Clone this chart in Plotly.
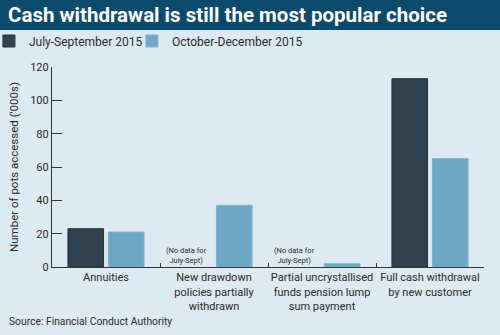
import plotly.graph_objects as go

categories = [
    "Annuities",
    "New drawdown<br>policies partially<br>withdrawn",
    "Partial uncrystallised<br>funds pension lump<br>sum payment",
    "Full cash withdrawal<br>by new customer",
]
series_names = ["July-September 2015", "October-December 2015"]
jul_sep = [23, None, None, 113]
oct_dec = [21, 37, 2, 65]
no_data_label = "(No data for<br>July-Sept)"
y_ticks = [0, 20, 40, 60, 80, 100, 120]

BG = "#deeaf2"
DARK = "#2f424d"
LIGHT = "#6ea8c4"
TEXT = "#2a2a2a"
FONT = "Roboto"

fig = go.Figure()
fig.add_trace(go.Bar(x=categories, y=jul_sep, name=series_names[0], legend="legend",
                     marker=dict(color=DARK, line=dict(color="#24343e", width=1))))
fig.add_trace(go.Bar(x=categories, y=oct_dec, name=series_names[1], legend="legend2",
                     marker=dict(color=LIGHT, line=dict(color="#7fb4cd", width=1))))

for i, v in enumerate(jul_sep):
    if v is None:
        fig.add_annotation(x=categories[i], y=7, xref="x", yref="y", text=no_data_label,
                           showarrow=False, xshift=-28,
                           font=dict(family=FONT, size=7.5, color=TEXT))

# title bar
fig.add_shape(type="rect", xref="paper", yref="paper", x0=-1, x1=2, y0=1.185, y1=2,
              fillcolor="#0c4a6c", line=dict(width=0), layer="below")

fig.add_annotation(text="Source: Financial Conduct Authority", xref="paper", yref="paper",
                   x=-0.104, xanchor="left", y=-0.27, yanchor="middle",
                   showarrow=False, font=dict(family=FONT, size=10.3, color=TEXT))

legend_common = dict(orientation="h", xanchor="left", y=1.13, yanchor="middle",
                     font=dict(family=FONT, size=12, color=TEXT), bgcolor="rgba(0,0,0,0)")

fig.update_layout(
    width=500, height=335,
    margin=dict(l=52, r=16, t=67, b=68, autoexpand=False),
    paper_bgcolor=BG, plot_bgcolor=BG,
    font=dict(family=FONT, color=TEXT, size=12),
    title=dict(text="<b>Cash withdrawal is still the most popular choice</b>",
               x=0.016, xanchor="left", xref="container", y=0.955, yanchor="middle",
               yref="container", font=dict(family=FONT, size=20.5, color="white")),
    barmode="group", bargap=0.25, bargroupgap=0.12,
    showlegend=True,
    legend=dict(legend_common, x=-0.146),
    legend2=dict(legend_common, x=0.185),
    xaxis=dict(showline=True, linecolor="#333", linewidth=1.2, ticks="inside",
               tickson="boundaries", ticklen=4, tickcolor="#333", tickangle=0,
               automargin=False,
               tickfont=dict(family=FONT, size=11, color=TEXT), showgrid=False),
    yaxis=dict(range=[0, 120], tickvals=y_ticks, showline=True, linecolor="#333",
               linewidth=1.2, ticks="inside", ticklen=10, tickcolor="#333",
               showgrid=False, zeroline=False, automargin=False,
               tickfont=dict(family=FONT, size=11, color=TEXT),
               title=dict(text="Number of pots accessed ('000s)", standoff=9,
                          font=dict(family=FONT, size=11.5, color=TEXT))),
)
fig.write_html("out.html")
